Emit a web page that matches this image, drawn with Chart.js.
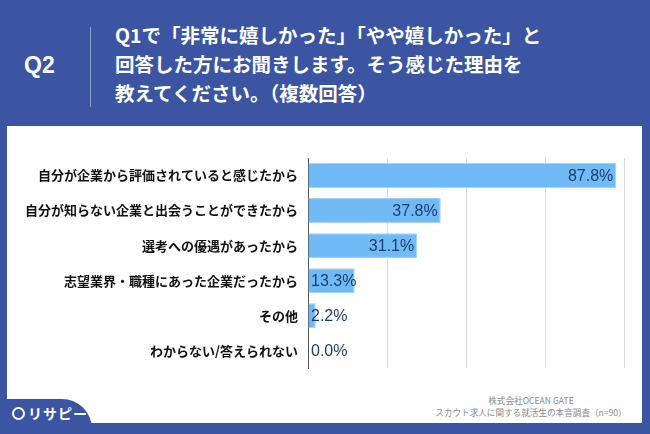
<!DOCTYPE html>
<html>
<head>
<meta charset="utf-8">
<script src="https://cdn.jsdelivr.net/npm/chart.js@4"></script>
<style>
  html, body { margin: 0; padding: 0; }
  body {
    width: 650px; height: 434px; position: relative; overflow: hidden;
    background: #3b55a3;
    font-family: "Noto Sans CJK JP", "Noto Sans", sans-serif;
  }
  #qno {
    position: absolute; left: 24px; top: 52px;
    color: #fff; font: bold 23px "Liberation Sans", "Noto Sans CJK JP", sans-serif;
  }
  #divider {
    position: absolute; left: 90px; top: 27px; width: 1px; height: 80px;
    background: #8d9fd2;
  }
  #title {
    position: absolute; left: 115px; top: 20px;
    color: #fff; font-weight: bold; font-size: 19.5px; line-height: 29px;
  }
  #panel {
    position: absolute; left: 7px; top: 126px; width: 635px; height: 297px;
    background: #fff;
  }
  #chartBox { position: absolute; left: 0; top: 126px; width: 642px; height: 260px; }
  #source {
    position: absolute; left: 381px; top: 394px; width: 300px;
    text-align: center; color: #8a8a8a; font-size: 8.6px; line-height: 12px;
    white-space: nowrap;
  }
  #tab {
    position: absolute; left: 0; top: 399px; width: 92px; height: 35px;
    background: #3b55a3; border-top-right-radius: 30px;
  }
  #logo {
    position: absolute; left: 12px; top: 403px; color: #fff;
    font-size: 14px; font-weight: bold; letter-spacing: 1px;
  }
  #pin {
    display: inline-block; width: 9px; height: 9px; border: 2px solid #fff;
    border-radius: 50%; margin-right: 3px; vertical-align: -1px;
  }
</style>
</head>
<body>
<div id="qno">Q2</div>
<div id="divider"></div>
<div id="title">Q1で「非常に嬉しかった」「やや嬉しかった」と<br>回答した方にお聞きします。そう感じた理由を<br>教えてください。（複数回答）</div>
<div id="panel"></div>
<div id="chartBox"><canvas id="chart"></canvas></div>
<div id="source">株式会社OCEAN GATE<br>スカウト求人に関する就活生の本音調査（n=90）</div>
<div id="tab"></div>
<div id="logo"><span id="pin"></span>リサピー</div>
<script>
const categories = [
  "自分が企業から評価されていると感じたから",
  "自分が知らない企業と出会うことができたから",
  "選考への優遇があったから",
  "志望業界・職種にあった企業だったから",
  "その他",
  "わからない/答えられない",
];
const values = [87.8, 37.8, 31.1, 13.3, 2.2, 0.0];
const axisMax = 90;
const gridStep = 22.5;

// value labels: right edge near bar end, but never left of the axis
const valueLabels = {
  id: "valueLabels",
  afterDatasetsDraw(chart) {
    const ctx = chart.ctx;
    const left = chart.scales.x.left;
    ctx.save();
    ctx.font = "16px 'Liberation Sans', sans-serif";
    ctx.fillStyle = "#1f3d6c";
    ctx.textAlign = "right";
    ctx.textBaseline = "middle";
    chart.getDatasetMeta(0).data.forEach((bar, i) => {
      let txt = values[i].toFixed(1) + "%";
      let w = ctx.measureText(txt).width;
      let x = Math.max(bar.x - 3, left + 3 + w);
      ctx.fillText(txt, x, bar.y + 1);
    });
    ctx.restore();
  },
};

const config = {
  type: "bar",
  data: {
    labels: categories,
    datasets: [
      {
        data: values,
        backgroundColor: "#70bbf6",
        borderColor: "#a4d2f8",
        borderWidth: 1,
        barPercentage: 0.71,
        categoryPercentage: 1,
      },
    ],
  },
  options: {
    indexAxis: "y",
    responsive: true,
    maintainAspectRatio: false,
    animation: false,
    layout: { padding: { left: 0, right: 18, top: 32, bottom: 7 } },
    plugins: { legend: { display: false }, tooltip: { enabled: false } },
    scales: {
      x: {
        min: 0,
        max: axisMax,
        ticks: { display: false, stepSize: gridStep },
        grid: {
          drawTicks: false,
          color: (c) => (c.tick && c.tick.value === 0 ? "rgba(0,0,0,0)" : "#dcdcdc"),
        },
        border: { display: false },
      },
      y: {
        afterFit: (scale) => { scale.width = 308; },
        ticks: {
          padding: 10,
          color: "#111",
          font: { family: "'Noto Sans CJK JP'", size: 13, weight: "bold" },
        },
        grid: { display: false, drawTicks: false },
        border: { display: true, color: "#555", width: 1 },
      },
    },
  },
  plugins: [valueLabels],
};

let chart = new Chart(document.querySelector("#chart"), config);
</script>
</body>
</html>
